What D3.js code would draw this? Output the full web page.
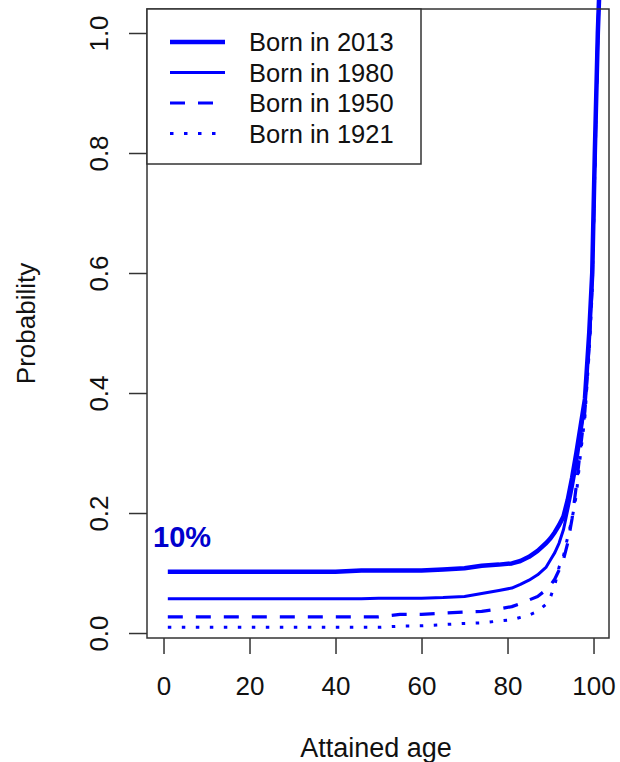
<!DOCTYPE html>
<meta charset="utf-8">
<head>
<style>
  body { margin: 0; background: #fff; }
  text { font-family: "Liberation Sans", Arial, sans-serif; fill: #111; }
</style>
</head>
<script src="https://d3js.org/d3.v7.min.js"></script>

<div id="plot"></div>

<script>

var ages = [1, 10, 20, 30, 40, 46, 50, 55, 60, 65, 70, 74, 78, 81, 83, 85, 87, 89, 90, 91, 92, 93, 94, 95, 96, 97, 98, 99, 99.7, 100.3, 101, 101.3];

// probability for each birth cohort
var born2013 = [0.102, 0.102, 0.102, 0.102, 0.102, 0.104, 0.104, 0.104, 0.104, 0.106, 0.108, 0.112, 0.114, 0.116, 0.120, 0.127, 0.137, 0.150, 0.158, 0.168, 0.180, 0.194, 0.222, 0.258, 0.300, 0.345, 0.390, 0.500, 0.600, 0.800, 1.000, 1.060];
var born1980 = [0.057, 0.057, 0.057, 0.057, 0.057, 0.057, 0.058, 0.058, 0.058, 0.059, 0.061, 0.066, 0.071, 0.075, 0.081, 0.088, 0.097, 0.110, 0.122, 0.134, 0.150, 0.172, 0.205, 0.240, 0.280, 0.330, 0.380, 0.490, 0.590, 0.790, 1.000, 1.060];
var born1950 = [0.027, 0.027, 0.027, 0.027, 0.027, 0.027, 0.027, 0.031, 0.031, 0.033, 0.035, 0.036, 0.040, 0.044, 0.049, 0.055, 0.061, 0.072, 0.080, 0.090, 0.105, 0.122, 0.150, 0.190, 0.245, 0.310, 0.370, 0.480, 0.580, 0.780, 1.000, 1.060];
var born1921 = [0.0095, 0.0095, 0.0095, 0.0095, 0.0095, 0.0095, 0.0095, 0.0115, 0.012, 0.014, 0.016, 0.017, 0.020, 0.022, 0.026, 0.030, 0.036, 0.048, 0.060, 0.080, 0.110, 0.128, 0.160, 0.190, 0.230, 0.300, 0.360, 0.470, 0.570, 0.770, 1.000, 1.060];

var legendLabels = ["Born in 2013", "Born in 1980", "Born in 1950", "Born in 1921"];
var xTicks = [0, 20, 40, 60, 80, 100];
var yTicks = [0.0, 0.2, 0.4, 0.6, 0.8, 1.0];

// line styles: width and dash for each cohort
var styles = [
  {w: 4.5, dash: null},
  {w: 3, dash: null},
  {w: 3.2, dash: "15,13"},
  {w: 3, dash: "3.5,10.5"}
];

var W = 620, H = 762;
var box = {left: 147, right: 609, top: 9, bottom: 638};

var svg = d3.select("#plot")
  .append("svg")
    .attr("width", W)
    .attr("height", H);

var x = d3.scaleLinear()
  .domain([-3.84, 103.6])
  .range([box.left, box.right]);

var y = d3.scaleLinear()
  .domain([-0.0083, 1.04])
  .range([box.bottom, box.top]);

// ---- curves ----
var series = [born2013, born1980, born1950, born1921];

var line = d3.line()
  .x(function(d) { return x(d[0]); })
  .y(function(d) { return y(d[1]); });

series.forEach(function(vals, i) {
  var pts = ages.map(function(a, j) { return [a, vals[j]]; });
  svg.append("path")
    .datum(pts)
    .attr("d", line)
    .attr("fill", "none")
    .attr("stroke", "#0000ff")
    .attr("stroke-width", styles[i].w)
    .attr("stroke-dasharray", styles[i].dash)
    .attr("stroke-linejoin", "round");
});

// ---- axes ----
var xAxis = d3.axisBottom(x)
  .tickValues(xTicks)
  .tickSize(16)
  .tickPadding(22.5)
  .tickFormat(d3.format("d"));

var gx = svg.append("g")
  .attr("transform", "translate(0," + box.bottom + ")")
  .call(xAxis);
gx.select(".domain").remove();
gx.selectAll("line").attr("stroke", "#333").attr("stroke-width", 1.5);
gx.selectAll("text")
  .style("font-size", "26px")
  .attr("fill", "#111")
  .style("font-family", "'Liberation Sans', Arial, sans-serif");

var yAxis = d3.axisLeft(y)
  .tickValues(yTicks)
  .tickSize(18)
  .tickFormat(d3.format(".1f"));

var gy = svg.append("g")
  .attr("transform", "translate(" + box.left + ",0)")
  .call(yAxis);
gy.select(".domain").remove();
gy.selectAll("line").attr("stroke", "#333").attr("stroke-width", 1.5);
gy.selectAll("text")
  .attr("x", null)
  .attr("dy", null)
  .attr("text-anchor", "middle")
  .attr("transform", "translate(-39,0) rotate(-90)")
  .attr("fill", "#111")
  .style("font-size", "26px")
  .style("font-family", "'Liberation Sans', Arial, sans-serif");

// plot frame
svg.append("rect")
  .attr("x", box.left)
  .attr("y", box.top)
  .attr("width", box.right - box.left)
  .attr("height", box.bottom - box.top)
  .attr("fill", "none")
  .attr("stroke", "#333")
  .attr("stroke-width", 1.5);

// axis titles
svg.append("text")
  .attr("x", 376)
  .attr("y", 757)
  .attr("text-anchor", "middle")
  .style("font-size", "27px")
  .text("Attained age");

svg.append("text")
  .attr("transform", "translate(35," + ((box.top + box.bottom) / 2) + ") rotate(-90)")
  .attr("text-anchor", "middle")
  .style("font-size", "26px")
  .text("Probability");

// 10% annotation
svg.append("text")
  .attr("x", 153)
  .attr("y", 547)
  .style("font-size", "29px")
  .style("font-weight", "bold")
  .style("fill", "#0000cd")
  .text("10%");

// ---- legend ----
var leg = svg.append("g");
leg.append("rect")
  .attr("x", box.left)
  .attr("y", box.top)
  .attr("width", 274)
  .attr("height", 155)
  .attr("fill", "#fff")
  .attr("stroke", "#333")
  .attr("stroke-width", 1.5);

legendLabels.forEach(function(lab, i) {
  var cy = 42 + i * 30.5;
  leg.append("line")
    .attr("x1", 170)
    .attr("x2", 225)
    .attr("y1", cy)
    .attr("y2", cy)
    .attr("stroke", "#0000ff")
    .attr("stroke-width", styles[i].w)
    .attr("stroke-dasharray", styles[i].dash);
  leg.append("text")
    .attr("x", 249)
    .attr("y", cy + 9.3)
    .style("font-size", "25.5px")
    .text(lab);
});

</script>
